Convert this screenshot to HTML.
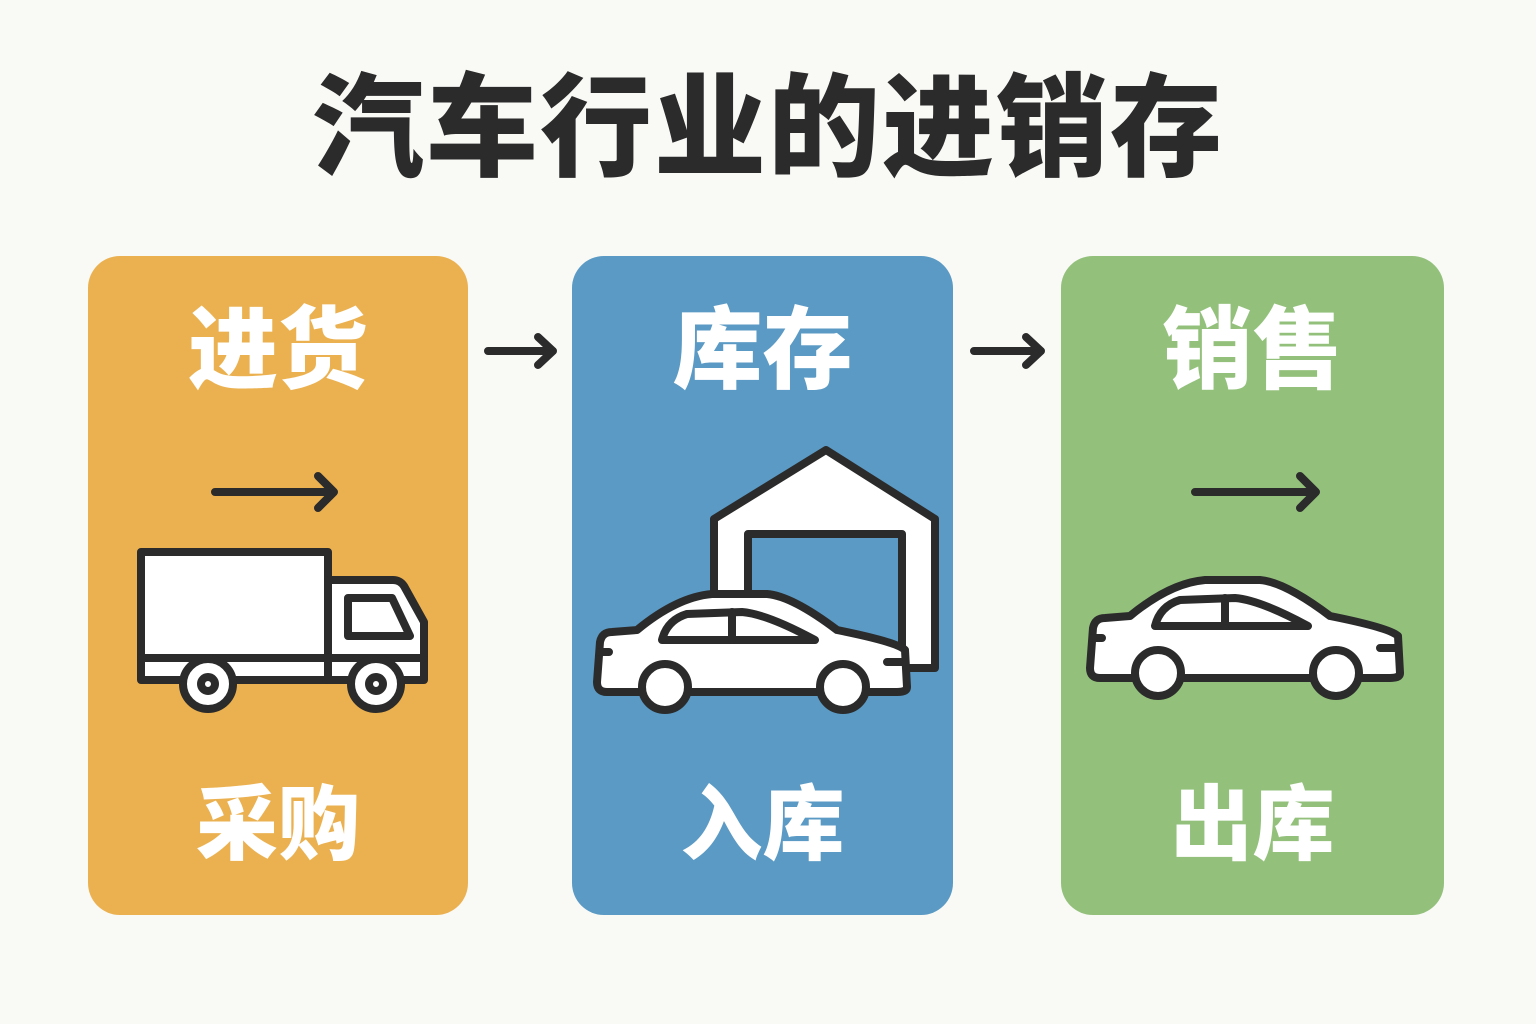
<!DOCTYPE html>
<html><head><meta charset="utf-8"><style>
body{margin:0;width:1536px;height:1024px;background:#f9f9f6;position:relative;overflow:hidden;font-family:"Liberation Sans","Noto Sans CJK SC",sans-serif}
.t{position:absolute;left:0;width:1536px;top:64px;text-align:center;font-size:112px;font-weight:900;color:#2b2b2b;letter-spacing:2px;line-height:130px}
.c{position:absolute;top:256px;height:659px;border-radius:32px}
.h{position:absolute;left:0;right:0;text-align:center;color:#fff;font-weight:900}
.a{top:40px;font-size:90px;line-height:110px}
.b{top:520px;font-size:82px;line-height:100px}
svg{position:absolute;left:0;top:0}
</style></head><body>
<div class="t">汽车行业的进销存</div>
<div class="c" style="left:88px;width:380px;background:#ebb150"><div class="h a">进货</div><div class="h b">采购</div></div>
<div class="c" style="left:572px;width:381px;background:#5b9ac4"><div class="h a">库存</div><div class="h b">入库</div></div>
<div class="c" style="left:1061px;width:383px;background:#93c17c"><div class="h a">销售</div><div class="h b">出库</div></div>
<svg width="1536" height="1024" fill="none" stroke="#2b2b2b" stroke-width="8" stroke-linecap="round" stroke-linejoin="round">
<defs>
<g id="car">
<path fill="#fff" d="M10,100 Q0,100 0,90 L3,50 Q5,40 15,40 L40,38 Q80,5 115,2 L170,2 Q195,4 240,38 Q300,50 308,58 L310,95 Q310,100 300,100 Z"/>
<path fill="#fff" d="M65,48 Q70,28 90,22 L145,20 Q170,22 218,48 Z"/>
<path d="M135,20 L135,48 M3,60 L12,60 M290,70 L308,70"/>
<circle cx="68" cy="95" r="23" fill="#fff"/><circle cx="246" cy="95" r="23" fill="#fff"/>
</g>
</defs>
<path d="M488,351 L553,351 M538,337 L553,351 L538,365"/>
<path d="M974,351 L1041,351 M1026,337 L1041,351 L1026,365"/>
<path d="M215,492 L334,492 M318,476 L334,492 L318,508"/>
<path d="M1195,492 L1316,492 M1300,476 L1316,492 L1300,508"/>
<rect x="141" y="552" width="187" height="128" fill="#fff"/>
<path fill="#fff" d="M328,580 L393,580 Q400,580 404,586 L424,622 L424,680 L328,680 Z"/>
<path d="M348,598 L392,598 L410,636 L348,636 Z"/>
<path d="M141,658 L424,658"/>
<circle cx="208" cy="684" r="25" fill="#fff"/><circle cx="208" cy="684" r="7"/>
<circle cx="376" cy="684" r="25" fill="#fff"/><circle cx="376" cy="684" r="7"/>
<path fill="#fff" d="M714,668 L714,519 L826,450 L935,519 L935,668 Z"/>
<rect x="748" y="534" width="154" height="140" fill="#5b9ac4"/>
<use href="#car" x="597" y="592"/>
<use href="#car" x="1090" y="578"/>
</svg>
</body></html>
